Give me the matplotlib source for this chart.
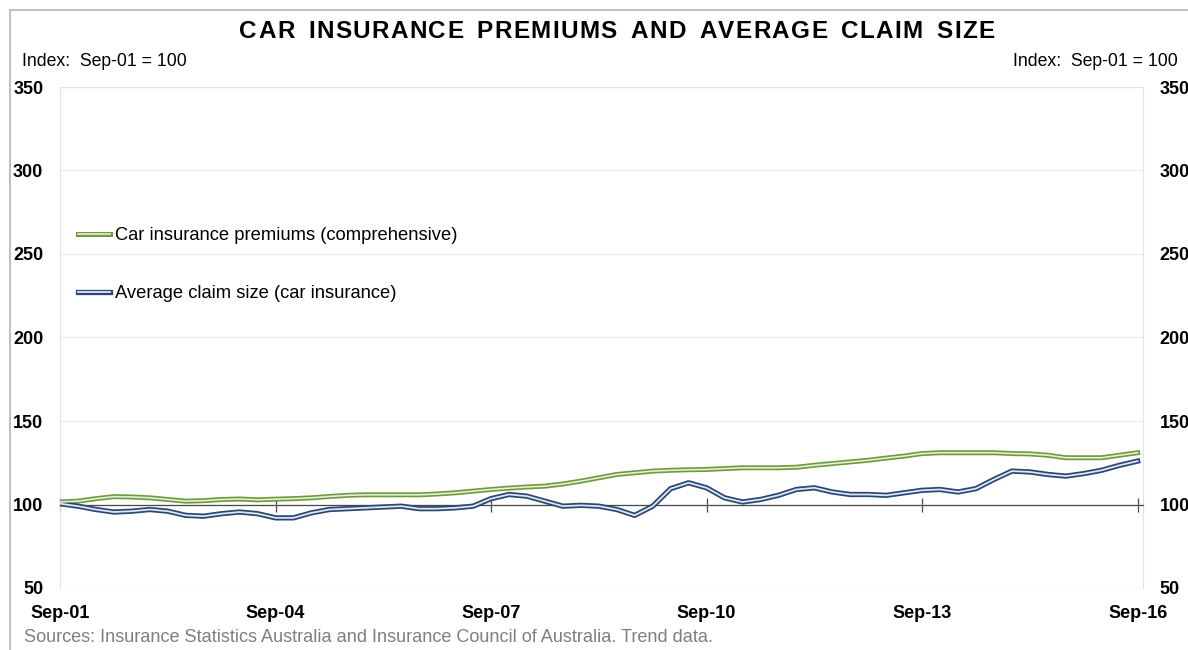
import numpy as np
import pandas as pd
import matplotlib
matplotlib.use("Agg")
import matplotlib.pyplot as plt
from matplotlib.legend_handler import HandlerTuple
from matplotlib.patches import Rectangle
from matplotlib.transforms import IdentityTransform

plt.rcParams['font.family'] = ['Liberation Sans', 'DejaVu Sans']

# quarterly index, Sep-01 = 100
quarters = pd.date_range('2001-09-30', '2016-09-30', freq='QE')
premiums = [101.5, 102.0, 103.5, 104.7, 104.5, 104.0, 103.0, 102.0, 102.3, 103.0,
            103.3, 102.8, 103.2, 103.5, 104.0, 104.8, 105.5, 105.8, 105.8, 105.8,
            105.8, 106.3, 107.0, 108.0, 109.0, 109.8, 110.5, 111.0, 112.3, 114.0,
            116.0, 118.0, 119.0, 120.0, 120.5, 120.8, 121.0, 121.5, 122.0, 122.0,
            122.0, 122.3, 123.5, 124.5, 125.5, 126.5, 127.8, 129.0, 130.5, 131.0,
            131.0, 131.0, 131.0, 130.5, 130.3, 129.5, 128.0, 128.0, 128.0, 129.5,
            131.0]
claims = [100.5, 99.0, 97.0, 95.5, 96.0, 97.0, 96.0, 93.5, 93.0, 94.5,
          95.5, 94.5, 92.0, 92.0, 95.0, 97.0, 97.5, 98.0, 98.5, 99.0,
          97.5, 97.5, 98.0, 99.0, 103.5, 106.0, 105.0, 102.0, 99.0, 99.5,
          99.0, 97.0, 93.5, 99.0, 109.5, 113.0, 110.0, 104.0, 101.5, 103.0,
          105.5, 109.0, 110.0, 107.5, 106.0, 106.0, 105.5, 107.0, 108.5, 109.0,
          107.5, 109.5, 115.0, 120.0, 119.5, 118.0, 117.0, 118.5, 120.5, 123.5,
          126.0]
labels = ['Car insurance premiums (comprehensive)', 'Average claim size (car insurance)']
y_ticks = [50, 100, 150, 200, 250, 300, 350]

x = np.arange(len(quarters))
tick_pos = x[::12]
tick_labels = [d.strftime('%b-%y') for d in quarters[::12]]

W, H = 1188, 650
fig = plt.figure(figsize=(W / 100, H / 100), dpi=100)
ax = fig.add_axes([60 / W, 62 / H, 1083 / W, 501 / H])

# double-line look: thick coloured stroke with a pale core
green, green_in = '#6f9a3e', '#e4efd6'
blue, blue_in = '#2b4672', '#dde5f1'
g1, = ax.plot(x, premiums, color=green, lw=3.6, zorder=3, solid_joinstyle='round')
g2, = ax.plot(x, premiums, color=green_in, lw=1.2, zorder=3.1, solid_joinstyle='round')
b1, = ax.plot(x, claims, color=blue, lw=3.8, zorder=3, solid_joinstyle='round')
b2, = ax.plot(x, claims, color=blue_in, lw=1.3, zorder=3.1, solid_joinstyle='round')

ax.set_xlim(0, 60.3)
ax.set_ylim(50, 350)
ax.set_yticks(y_ticks)
ax.grid(axis='y', color='#eeeeee', lw=1)
ax.set_axisbelow(True)

for s in ['left', 'right', 'top']:
    ax.spines[s].set_color('#e4e4e4')
ax.spines['bottom'].set_position(('data', 100))
ax.spines['bottom'].set_color('#4a4a4a')
ax.spines['bottom'].set_linewidth(0.9)
ax.set_xticks(tick_pos)
ax.tick_params(axis='x', direction='inout', length=10, width=0.9, color='#4a4a4a',
               labelbottom=False)
ax.tick_params(axis='y', length=0, pad=12, labelsize=13)
for t in ax.get_yticklabels():
    t.set_fontweight('bold')

sec_x = ax.secondary_xaxis('bottom')
sec_x.set_xticks(tick_pos, tick_labels)
sec_x.tick_params(length=0, pad=12, labelsize=13)
sec_x.spines['bottom'].set_visible(False)
for t in sec_x.get_xticklabels():
    t.set_fontweight('bold')

sec_y = ax.secondary_yaxis('right')
sec_y.set_yticks(y_ticks)
sec_y.tick_params(length=0, pad=12, labelsize=13)
sec_y.spines['right'].set_visible(False)
for t in sec_y.get_yticklabels():
    t.set_fontweight('bold')

leg = ax.legend([(g1, g2), (b1, b2)], labels,
                handler_map={tuple: HandlerTuple(ndivide=1, pad=0)},
                loc='upper left', bbox_to_anchor=(0.0166, 0.72), frameon=False,
                fontsize=13.2, handlelength=1.75, handletextpad=0.27, labelspacing=2.23,
                borderaxespad=0, borderpad=0)

fig.text(22 / W, 1 - 62 / H, 'Index:  Sep-01 = 100', fontsize=12.7, va='center')
fig.text(1178 / W, 1 - 62 / H, 'Index:  Sep-01 = 100', fontsize=12.7, va='center', ha='right')
fig.text(24 / W, 1 - 638 / H,
         'Sources: Insurance Statistics Australia and Insurance Council of Australia. Trend data.',
         fontsize=13.1, va='center', color='#7f7f7f')

# letter-spaced title, one glyph at a time
title = 'CAR INSURANCE PREMIUMS AND AVERAGE CLAIM SIZE'
r = fig.canvas.get_renderer()
kw = dict(fontsize=17.5, fontweight='bold', va='center', ha='left', transform=IdentityTransform())
probe = fig.text(0, 0, 'n n', **kw)
probe2 = fig.text(0, 0, 'nn', **kw)
space_w = probe.get_window_extent(r).width - probe2.get_window_extent(r).width
probe.remove()
probe2.remove()
glyphs = [fig.text(0, H - 32, ch, **kw) for ch in title]
widths = [space_w * 1.6 if ch == ' ' else g.get_window_extent(r).width
          for ch, g in zip(title, glyphs)]
gap = (755 - sum(widths)) / (len(title) - 1)
xpos = 617 - 755 / 2
for g, w in zip(glyphs, widths):
    g.set_x(xpos)
    xpos += w + gap

fig.add_artist(Rectangle((10 / W, -0.1), 1.2, 1.1 - 10 / H, transform=fig.transFigure,
                         fill=False, edgecolor='#b4b4b4', lw=1.2))

fig.savefig('out.png', dpi=100)
